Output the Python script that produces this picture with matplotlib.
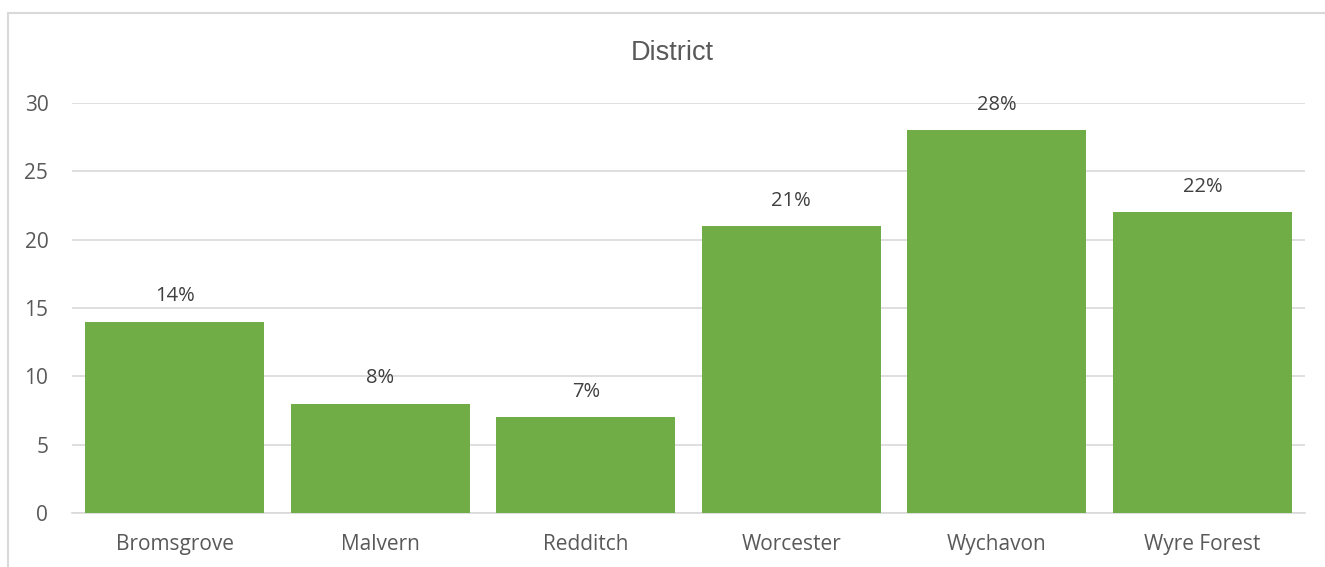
import matplotlib.pyplot as plt
from matplotlib.patches import Rectangle

districts = ['Bromsgrove', 'Malvern', 'Redditch', 'Worcester', 'Wychavon', 'Wyre Forest']
values = [14, 8, 7, 21, 28, 22]
labels = ['14%', '8%', '7%', '21%', '28%', '22%']

plt.rcParams['font.family'] = ['Open Sans', 'DejaVu Sans']
txt = '#595959'

fig = plt.figure(figsize=(13.25, 5.67), dpi=100)
ax = fig.add_axes([0.0543, 0.0952, 0.9307, 0.7231])

# outer chart frame (cut off at right and bottom)
fig.patches.append(Rectangle((0.0064, -0.1), 1.2, 1.0771, transform=fig.transFigure,
                             fill=False, edgecolor='#D9D9D9', linewidth=1.5))

x = range(len(districts))
ax.bar(x, values, width=0.87, color='#70AD47', zorder=3)
for i, (v, lab) in enumerate(zip(values, labels)):
    ax.annotate(lab, (i, v), xytext=(0, 11), textcoords='offset points',
                ha='center', va='bottom', fontsize=14.5, color='#404040')

ax.set_xlim(-0.5, len(districts) - 0.5)
ax.set_ylim(0, 30)
ax.set_yticks(range(0, 31, 5))
ax.set_xticks(list(x))
ax.set_xticklabels(districts)
ax.grid(axis='y', color='#D9D9D9', linewidth=1.2, zorder=0)
for s in ['top', 'right', 'left']:
    ax.spines[s].set_visible(False)
ax.spines['bottom'].set_color('#D9D9D9')
ax.spines['bottom'].set_linewidth(1.2)
ax.tick_params(axis='both', length=0, labelsize=15, colors=txt)
ax.tick_params(axis='x', pad=15)
ax.tick_params(axis='y', pad=17)

fig.text(0.507, 0.907, 'District', ha='center', va='center', fontsize=19.5,
         color=txt, family=['Liberation Sans', 'DejaVu Sans'])

fig.savefig('out.png', dpi=100)
